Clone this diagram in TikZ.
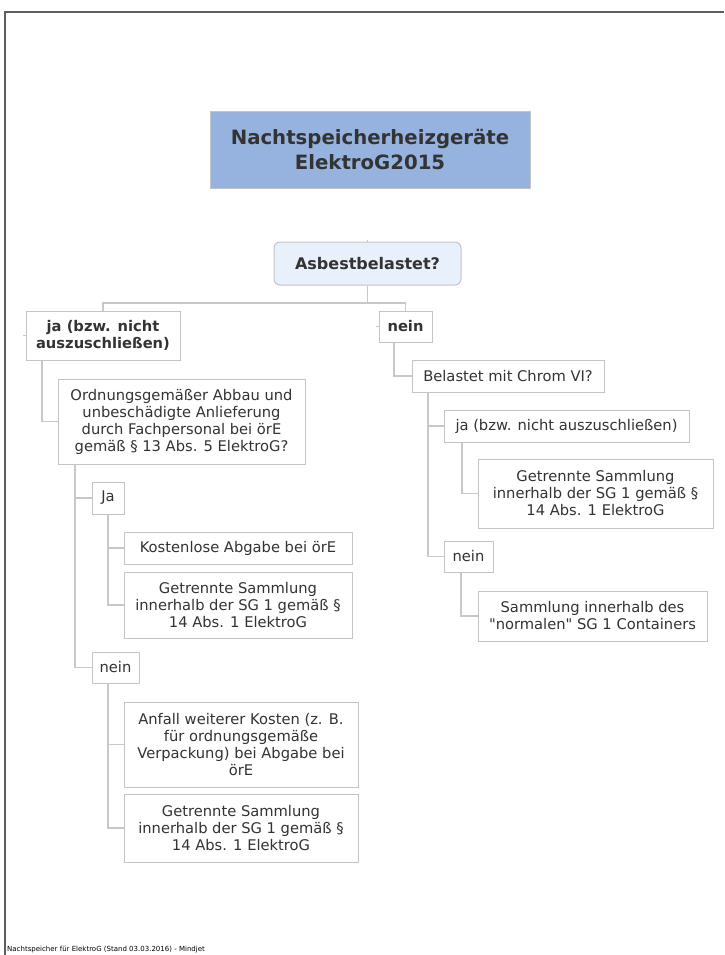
\documentclass[tikz,border=0pt]{standalone}
\usepackage{fontspec}
\setmainfont{DejaVu Sans}
\newfontfamily\plainfont{DejaVu Sans}
\definecolor{txt}{HTML}{333333}
\definecolor{bline}{HTML}{C4C4C4}
\definecolor{cline}{HTML}{C8C8C8}
\definecolor{titlefill}{HTML}{95B3DE}
\definecolor{asbfill}{HTML}{E8F0FC}
\definecolor{frame}{HTML}{5E5E5E}
\begin{document}
\begin{tikzpicture}[x=1pt,y=-1pt,
  box/.style={draw=bline,line width=1pt,fill=white,inner sep=0pt,align=center,text=txt,
    font=\fontsize{14.7}{17}\selectfont},
  bbox/.style={box,font=\fontsize{14.7}{17}\selectfont\bfseries},
  conn/.style={draw=cline,line width=1.2pt}]
\useasboundingbox (0,0) rectangle (724,955);
\draw[frame,line width=1.6pt] (5,955) -- (5,12) -- (724,12);

\node[draw=bline,line width=1pt,fill=titlefill,text=txt,minimum width=320pt,minimum height=76pt,inner sep=0pt,align=center,
  font=\fontsize{19.7}{25}\selectfont\bfseries] (title) at (370,150) {Nachtspeicherheizgeräte\\ElektroG2015};
\node[draw=bline,line width=1pt,fill=asbfill,text=txt,rounded corners=6pt,minimum width=187pt,minimum height=43pt,inner sep=0pt,
  font=\fontsize{16}{18}\selectfont\bfseries] (asb) at (367.5,263.5) {Asbestbelastet?};

\node[bbox,minimum width=154pt,minimum height=49pt] (ja1) at (103,335.5) {ja (bzw. nicht\\auszuschließen)};
\node[bbox,minimum width=53pt,minimum height=31pt] (nein1) at (405.5,326.5) {nein};

\node[box,minimum width=247pt,minimum height=85pt] (ord) at (181.5,421.5) {Ordnungsgemäßer Abbau und\\unbeschädigte Anlieferung\\durch Fachpersonal bei örE\\gemäß § 13 Abs. 5 ElektroG?};
\node[box,minimum width=32pt,minimum height=32pt] (Ja) at (108,498) {Ja};
\node[box,minimum width=228pt,minimum height=32pt] (kost) at (238,548) {Kostenlose Abgabe bei örE};
\node[box,minimum width=228pt,minimum height=66pt] (get1) at (238,605) {Getrennte Sammlung\\innerhalb der SG 1 gemäß §\\14 Abs. 1 ElektroG};
\node[box,minimum width=47pt,minimum height=31pt] (nein2) at (115.5,667.5) {nein};
\node[box,minimum width=234pt,minimum height=85pt] (anf) at (241,744.5) {Anfall weiterer Kosten (z. B.\\für ordnungsgemäße\\Verpackung) bei Abgabe bei\\örE};
\node[box,minimum width=234pt,minimum height=68pt] (get2) at (241,828) {Getrennte Sammlung\\innerhalb der SG 1 gemäß §\\14 Abs. 1 ElektroG};

\node[box,minimum width=192pt,minimum height=32pt] (bel) at (508,376) {Belastet mit Chrom VI?};
\node[box,minimum width=245pt,minimum height=32pt] (jab) at (566.5,426) {ja (bzw. nicht auszuschließen)};
\node[box,minimum width=235pt,minimum height=69pt] (get3) at (595.5,493.5) {Getrennte Sammlung\\innerhalb der SG 1 gemäß §\\14 Abs. 1 ElektroG};
\node[box,minimum width=49pt,minimum height=31pt] (nein3) at (468.5,556.5) {nein};
\node[box,minimum width=229pt,minimum height=50pt,font=\plainfont\fontsize{14.7}{17}\selectfont] (samm) at (592.5,616) {Sammlung innerhalb des\\"normalen" SG 1 Containers};

% connectors
\coordinate (bus) at (367.5,303);
\draw[conn] (asb.south) -- (bus);
\draw[conn] (ja1.north) |- (bus) -| (nein1.north);
\draw[conn] (ja1.south -| 42,0) |- (ord.west);
\draw[conn] (ord.south -| 75,0) |- (Ja.west);
\draw[conn] (ord.south -| 75,0) |- (nein2.west);
\draw[conn] (Ja.south) |- (kost.west);
\draw[conn] (Ja.south) |- (get1.west);
\draw[conn] (nein2.south -| 108,0) |- (anf.west);
\draw[conn] (nein2.south -| 108,0) |- (get2.west);
\draw[conn] (nein1.south -| 394,0) |- (bel.west);
\draw[conn] (bel.south -| 428,0) |- (jab.west);
\draw[conn] (bel.south -| 428,0) |- (nein3.west);
\draw[conn] (jab.south -| 462,0) |- (get3.west);
\draw[conn] (nein3.south -| 461,0) |- (samm.west);
% small stubs
\draw[conn] (ja1.west) -- ++(-3,0);
\draw[conn] (nein1.west) -- ++(-3,0);
\draw[conn] (asb.north) -- ++(0,-2);

\node[anchor=south west,inner sep=0pt,text=black,font=\fontsize{7}{8}\selectfont] (foot) at (7,953) {Nachtspeicher für ElektroG (Stand 03.03.2016) - Mindjet};
\end{tikzpicture}
\end{document}
